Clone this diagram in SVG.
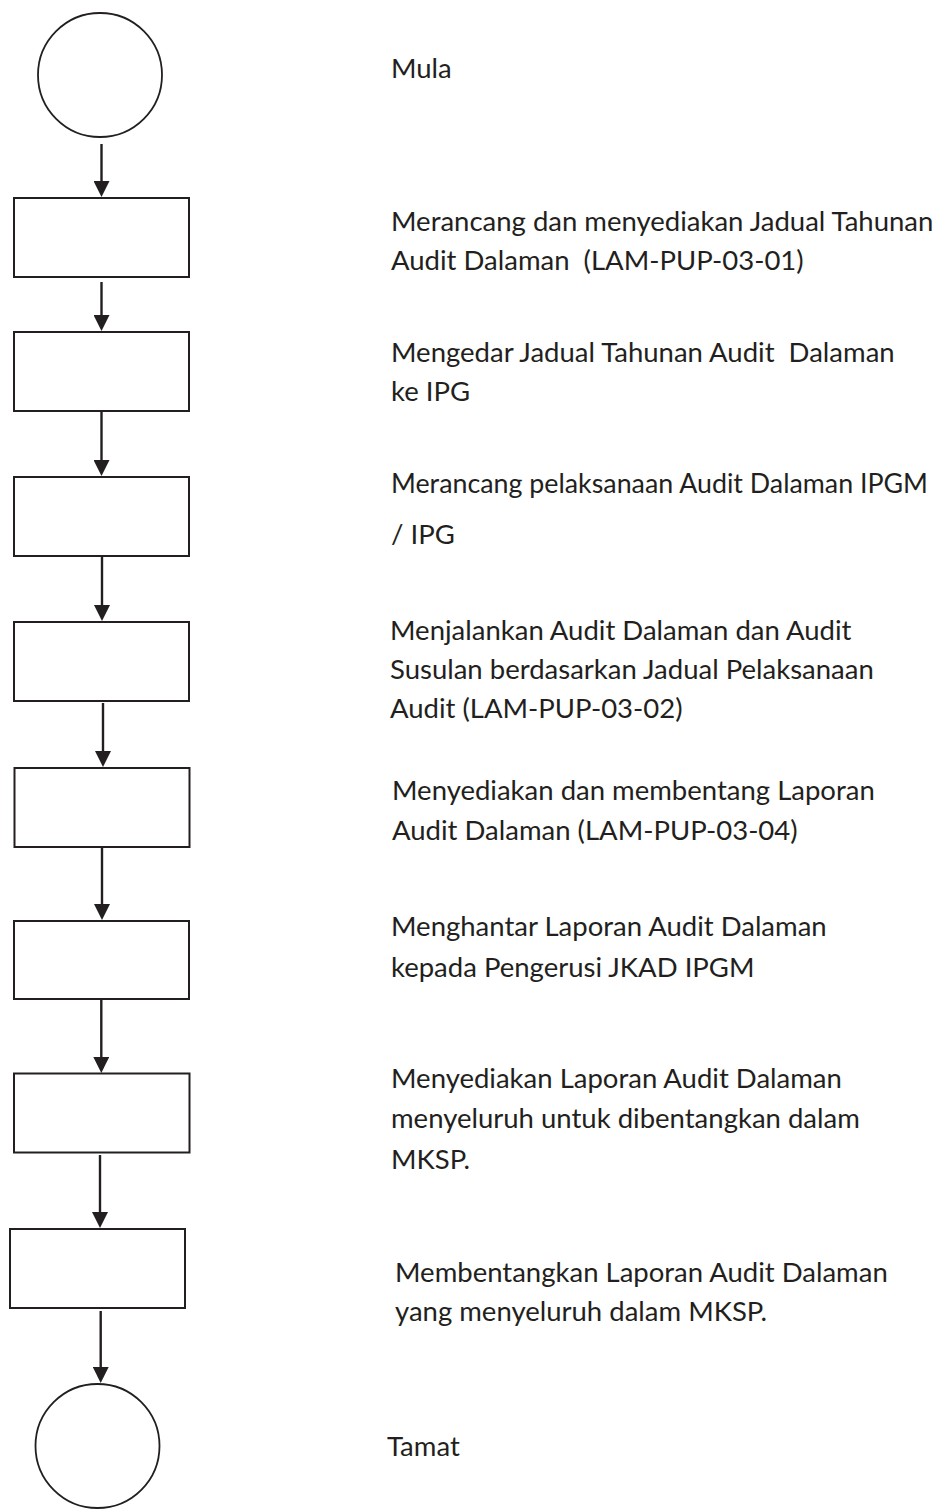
<svg xmlns="http://www.w3.org/2000/svg" width="939" height="1510" viewBox="0 0 939 1510">
<style>
.node{fill:#ffffff;stroke:#231f20;stroke-width:2}
.term{fill:#ffffff;stroke:#231f20;stroke-width:1.8}
.conn{fill:none;stroke:#231f20;stroke-width:2.4}
.lbl{font-family:Lato,"Liberation Sans",sans-serif;font-size:27.5px;fill:#231f20}
</style>
<defs>
<marker id="ah" markerUnits="userSpaceOnUse" markerWidth="16" markerHeight="16" refX="0" refY="8" orient="auto">
<path d="M0,0 L16,8 L0,16 z" fill="#231f20"/>
</marker>
</defs>
<rect width="939" height="1510" fill="#ffffff"/>
<g id="start">
<circle class="term" cx="100" cy="75" r="62"/>
<text class="lbl" x="391" y="78">Mula</text>
</g>
<g id="step1">
<rect class="node" x="14" y="198" width="175" height="79"/>
<text class="lbl" x="391" y="231">Merancang dan menyediakan Jadual Tahunan</text>
<text class="lbl" x="391" y="270" xml:space="preserve">Audit Dalaman  (LAM-PUP-03-01)</text>
</g>
<g id="step2">
<rect class="node" x="14" y="332" width="175" height="79"/>
<text class="lbl" x="391" y="362" xml:space="preserve">Mengedar Jadual Tahunan Audit  Dalaman</text>
<text class="lbl" x="391" y="401">ke IPG</text>
</g>
<g id="step3">
<rect class="node" x="14" y="477" width="175" height="79"/>
<text class="lbl" x="391" y="493" style="font-size:26.8px">Merancang pelaksanaan Audit Dalaman IPGM</text>
<text class="lbl" x="391" y="544">/ IPG</text>
</g>
<g id="step4">
<rect class="node" x="14" y="622" width="175" height="79"/>
<text class="lbl" x="390" y="640">Menjalankan Audit Dalaman dan Audit</text>
<text class="lbl" x="390" y="679">Susulan berdasarkan Jadual Pelaksanaan</text>
<text class="lbl" x="390" y="718">Audit (LAM-PUP-03-02)</text>
</g>
<g id="step5">
<rect class="node" x="14.5" y="768" width="175" height="79"/>
<text class="lbl" x="392" y="800">Menyediakan dan membentang Laporan</text>
<text class="lbl" x="392" y="840">Audit Dalaman (LAM-PUP-03-04)</text>
</g>
<g id="step6">
<rect class="node" x="14" y="921" width="175" height="78"/>
<text class="lbl" x="391" y="936">Menghantar Laporan Audit Dalaman</text>
<text class="lbl" x="391" y="977">kepada Pengerusi JKAD IPGM</text>
</g>
<g id="step7">
<rect class="node" x="14" y="1073.5" width="175.5" height="79"/>
<text class="lbl" x="391" y="1088">Menyediakan Laporan Audit Dalaman</text>
<text class="lbl" x="391" y="1128">menyeluruh untuk dibentangkan dalam</text>
<text class="lbl" x="391" y="1169">MKSP.</text>
</g>
<g id="step8">
<rect class="node" x="10" y="1229" width="175" height="79"/>
<text class="lbl" x="395" y="1282">Membentangkan Laporan Audit Dalaman</text>
<text class="lbl" x="395" y="1321">yang menyeluruh dalam MKSP.</text>
</g>
<g id="end">
<circle class="term" cx="97.5" cy="1446" r="62"/>
<text class="lbl" x="387" y="1456">Tamat</text>
</g>
<g id="connectors">
<line class="conn" x1="101.5" y1="144" x2="101.5" y2="181" marker-end="url(#ah)"/>
<line class="conn" x1="101.5" y1="282" x2="101.5" y2="315" marker-end="url(#ah)"/>
<line class="conn" x1="101.5" y1="412" x2="101.5" y2="460" marker-end="url(#ah)"/>
<line class="conn" x1="102" y1="557" x2="102" y2="605" marker-end="url(#ah)"/>
<line class="conn" x1="103" y1="703" x2="103" y2="751" marker-end="url(#ah)"/>
<line class="conn" x1="102" y1="848" x2="102" y2="904" marker-end="url(#ah)"/>
<line class="conn" x1="101.3" y1="999.5" x2="101.3" y2="1057" marker-end="url(#ah)"/>
<line class="conn" x1="100" y1="1155" x2="100" y2="1212" marker-end="url(#ah)"/>
<line class="conn" x1="100.7" y1="1311" x2="100.7" y2="1367" marker-end="url(#ah)"/>
</g>
</svg>
